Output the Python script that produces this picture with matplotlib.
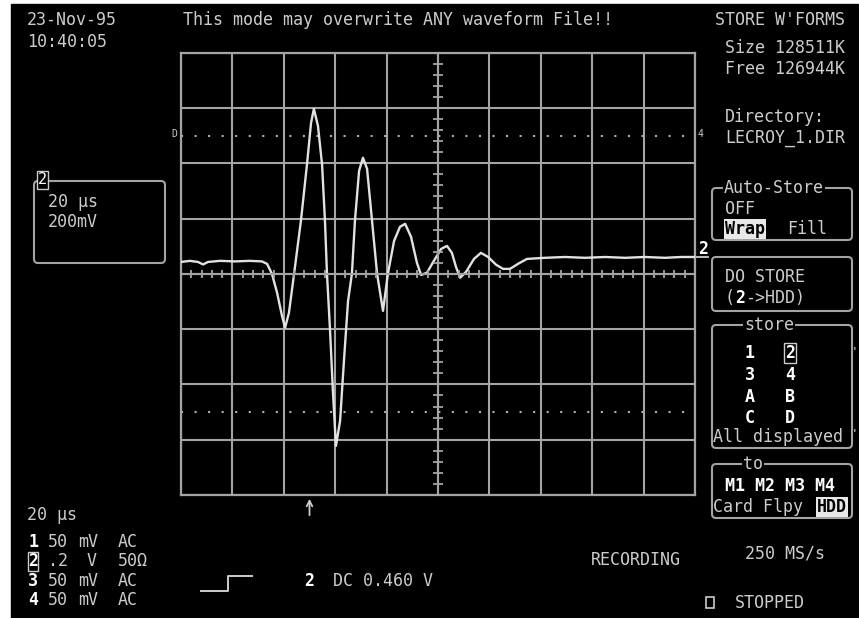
import numpy as np
import matplotlib
matplotlib.use("Agg")
import matplotlib.pyplot as plt
from matplotlib.patches import Rectangle, FancyBboxPatch
from matplotlib.ticker import MultipleLocator

# Channel 2 trace: time in microseconds, level in volts
time_us = [0, 3.5, 6.6, 8.6, 10.5, 15.2, 21.0, 26.8, 31.5, 33.5, 35.4, 37.4,
           39.3, 40.5, 42.0, 44.0, 46.7, 49.0, 50.6, 51.7, 53.3, 54.9, 56.0,
           56.8, 58.0, 59.1, 60.3, 61.9, 63.4, 65.0, 66.5, 67.7, 69.3, 70.8,
           72.4, 74.3, 76.3, 78.6, 80.5, 82.9, 85.2, 87.2, 89.5, 91.8, 93.4,
           95.7, 98.4, 101.2, 103.5, 105.4, 107.0, 108.6, 110.9, 114.0, 116.7,
           119.5, 122.6, 125.3, 128.0, 131.1, 134.6, 141.6, 149.4, 157.2,
           165.0, 172.8, 180.5, 188.3, 194.6, 200.0]
volts = [0.043, 0.047, 0.043, 0.034, 0.043, 0.047, 0.045, 0.047, 0.045, 0.036,
         0.0, -0.069, -0.152, -0.195, -0.141, 0.0, 0.195, 0.394, 0.546, 0.597,
         0.535, 0.394, 0.195, 0.0, -0.206, -0.423, -0.622, -0.532, -0.315,
         -0.098, 0.0, 0.195, 0.373, 0.420, 0.380, 0.195, 0.0, -0.134, 0.0,
         0.119, 0.170, 0.181, 0.134, 0.040, -0.004, 0.004, 0.047, 0.090, 0.101,
         0.076, 0.025, -0.014, 0.007, 0.054, 0.076, 0.061, 0.033, 0.018, 0.018,
         0.036, 0.054, 0.058, 0.061, 0.058, 0.061, 0.058, 0.061, 0.058, 0.061,
         0.061]

time_per_div = 20      # us
volts_per_div = 0.2    # V
trigger_us = 50
cursor_levels = [0.5, -0.5]

channels = ["1", "2", "3", "4"]
ch_scale = ["50", ".2", "50", "50"]
ch_unit = ["mV", "V", "mV", "mV"]
ch_coupling = ["AC", "50Ω", "AC", "AC"]

GREY = "#a4a4a4"
TXT = "#cccccc"
MONO = "DejaVu Sans Mono"
FS = 12

fig = plt.figure(figsize=(8.59, 6.18), dpi=100)
fig.patch.set_facecolor("white")

# full-screen overlay in pixel coordinates for the menus and labels
ax0 = fig.add_axes([0, 0, 1, 1])
ax0.set_xlim(0, 859)
ax0.set_ylim(618, 0)
ax0.axis("off")
ax0.add_patch(Rectangle((11, 4), 848, 614, color="black", zorder=0))

# graticule
pos = [181 / 859, (618 - 495) / 618, (695 - 181) / 859, (495 - 52.7) / 618]
ax = fig.add_axes(pos, zorder=2)
ax.set_facecolor("black")
ax.set_xlim(0, 10 * time_per_div)
ax.set_ylim(-4 * volts_per_div, 4 * volts_per_div)
ax.xaxis.set_major_locator(MultipleLocator(time_per_div))
ax.yaxis.set_major_locator(MultipleLocator(volts_per_div))
ax.grid(True, color=GREY, lw=1.5)
ax.tick_params(length=0, labelbottom=False, labelleft=False)
for s in ax.spines.values():
    s.set_color(GREY)
    s.set_linewidth(1.6)
for lvl in cursor_levels:
    ax.axhline(lvl, color="#b0b0b0", lw=1.5, ls=(0, (1, 5.5)))
ax.plot(time_us, volts, color="#e2e2e2", lw=1.7, zorder=5)

# center axes with minor ticks
axc = fig.add_axes(pos, zorder=3)
axc.set_xlim(0, 10)
axc.set_ylim(-4, 4)
axc.patch.set_alpha(0)
for k in ["top", "right"]:
    axc.spines[k].set_visible(False)
axc.spines["left"].set_position(("data", 5))
axc.spines["bottom"].set_position(("data", 0))
for k in ["left", "bottom"]:
    axc.spines[k].set_color(GREY)
    axc.spines[k].set_linewidth(1.5)
axc.xaxis.set_minor_locator(MultipleLocator(0.2))
axc.yaxis.set_minor_locator(MultipleLocator(0.2))
axc.tick_params(which="major", length=0, labelbottom=False, labelleft=False)
axc.tick_params(axis="y", which="minor", direction="inout", length=7,
                width=1.3, color=GREY)
axc.tick_params(axis="x", which="minor", direction="inout", length=6,
                width=1.3, color=GREY)


def txt(x, y, s, **kw):
    opts = dict(family=MONO, fontsize=FS, color=TXT, va="center", ha="left")
    opts.update(kw)
    return ax0.text(x, y, s, **opts)


def box(x0, y0, x1, y1, title=None, tx=None):
    ax0.add_patch(FancyBboxPatch((x0, y0), x1 - x0, y1 - y0,
                                 boxstyle="round,pad=0,rounding_size=4",
                                 fc="none", ec=GREY, lw=1.5))
    if title:
        txt(tx, y0, title, bbox=dict(fc="black", ec="none", pad=0.5))


# header
txt(27, 20, "23-Nov-95")
txt(27, 42, "10:40:05")
txt(183, 20, "This mode may overwrite ANY waveform File!!")
txt(715, 20, "STORE W'FORMS")
txt(725, 48, "Size 128511K")
txt(725, 69, "Free 126944K")
txt(725, 117, "Directory:")
txt(725, 138, "LECROY_1.DIR")

# trace markers
txt(171, 134, "D", fontsize=7)
txt(698, 134, "4", fontsize=7)
ax0.plot([693, 708], [257, 257], color=TXT, lw=1.3)
txt(698, 249, "2", color="white", fontweight="bold")

# left trace box
box(34, 181, 165, 263)
txt(38, 180, "2", fontsize=11, color="white",
    bbox=dict(fc="black", ec=TXT, pad=0.8, lw=1))
txt(48, 202, "20 µs")
txt(48, 222, "200mV")

# right menus
box(712, 188, 852, 240, "Auto-Store", 724)
txt(725, 209, "OFF")
txt(725, 229, "Wrap", color="black", fontweight="bold",
    bbox=dict(fc="#e8e8e8", ec="none", pad=1))
txt(787, 229, "Fill")

box(712, 257, 852, 311)
txt(725, 277, "DO STORE")
txt(725, 298, "(")
txt(735, 298, "2", color="white", fontweight="bold")
txt(745, 298, "->HDD)")

box(712, 325, 852, 448, "store", 744)
txt(745, 353, "1", color="white", fontweight="bold")
txt(785, 353, "2", color="white", fontweight="bold",
    bbox=dict(fc="black", ec=TXT, pad=0.5, lw=1))
txt(745, 375, "3", color="white", fontweight="bold")
txt(785, 375, "4", color="white", fontweight="bold")
txt(745, 397, "A", color="white", fontweight="bold")
txt(785, 397, "B", color="white", fontweight="bold")
txt(745, 418, "C", color="white", fontweight="bold")
txt(785, 418, "D", color="white", fontweight="bold")
txt(713, 437, "All displayed")
txt(851, 352, "'", fontsize=9)
txt(851, 435, "'", fontsize=9)

box(712, 464, 852, 518, "to", 743)
txt(725, 486, "M1 M2 M3 M4", color="white", fontweight="bold")
txt(713, 507, "Card Flpy")
txt(817, 507, "HDD", color="black", fontweight="bold",
    bbox=dict(fc="#e8e8e8", ec="none", pad=1))

# trigger arrow
ax0.annotate("", xy=(181 + trigger_us / time_per_div * 51.4, 496),
             xytext=(181 + trigger_us / time_per_div * 51.4, 518),
             arrowprops=dict(arrowstyle="->", color=TXT, lw=1.3))

# bottom status
txt(27, 515, "20 µs")
for i, ch in enumerate(channels):
    y = 542 + i * 19.3
    if ch == "2":
        txt(28, y, ch, color="white", fontweight="bold",
            bbox=dict(fc="black", ec=TXT, pad=0.3, lw=1))
    else:
        txt(28, y, ch, color="white", fontweight="bold")
    if ch_unit[i] == "V":
        txt(48, y, ch_scale[i])
        txt(87, y, ch_unit[i])
    else:
        txt(48, y, ch_scale[i])
        txt(78, y, ch_unit[i])
    txt(118, y, ch_coupling[i])

ax0.plot([201, 228, 228, 252], [591, 591, 576, 576], color=TXT, lw=1.4)
txt(304, 581, "2", color="white", fontweight="bold")
txt(333, 581, "DC 0.460 V")
txt(591, 560, "RECORDING")
txt(745, 554, "250 MS/s")
ax0.add_patch(Rectangle((706, 597), 8, 11, fc="none", ec=TXT, lw=1.2))
txt(735, 603, "STOPPED")

fig.savefig("out.png", dpi=100, facecolor="white")
